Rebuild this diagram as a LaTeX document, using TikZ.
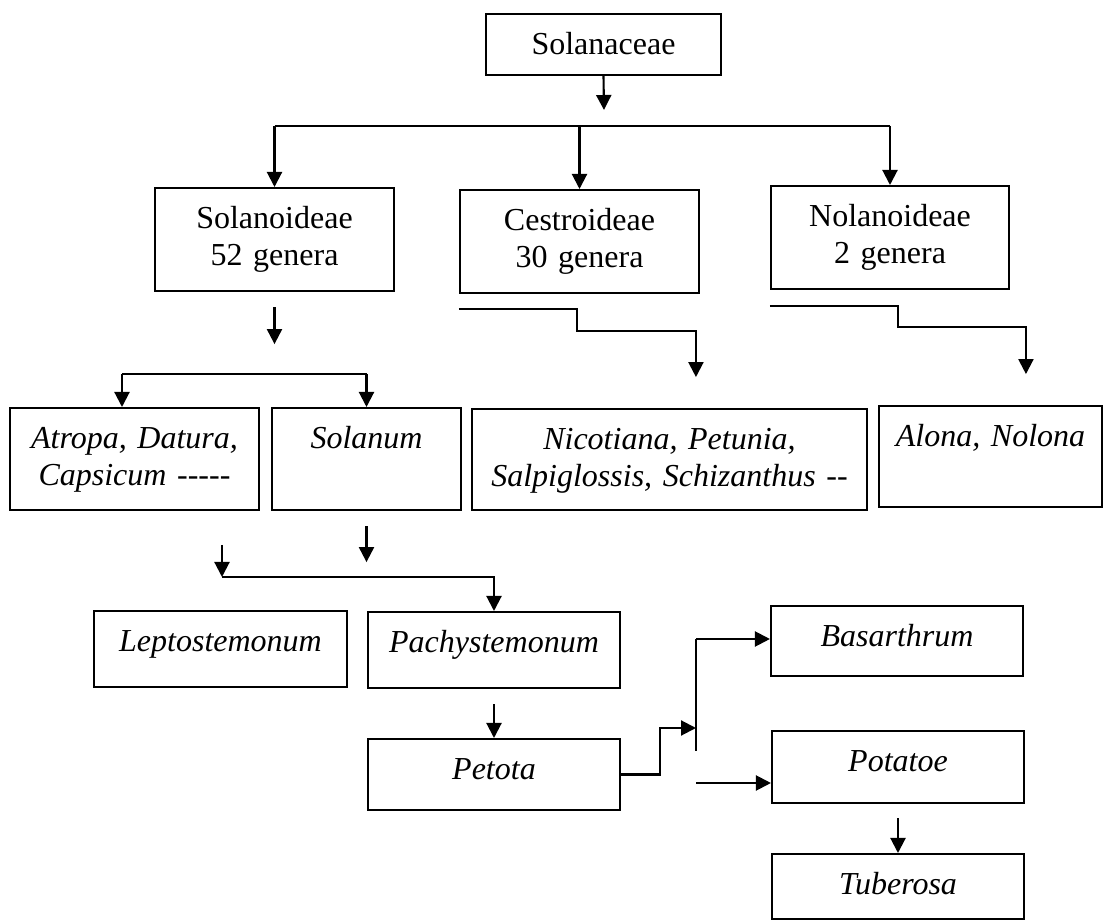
\documentclass[tikz,border=0pt]{standalone}
\usepackage{fontspec}
\setmainfont{Liberation Serif}[Ligatures=TeXOff]
\usetikzlibrary{arrows.meta}
\newcommand{\boxfont}{\fontsize{16pt}{18.5pt}\selectfont}

\begin{document}
\begin{tikzpicture}[
  x=.5pt,
  y=-.5pt,
  box/.style={
    draw,
    line width=1.05pt,
    inner sep=0pt,
    anchor=north,
    align=center,
    text height=20pt,
    font=\boxfont\itshape
  },
  head/.style={
    box,
    font=\boxfont
  },
  link/.style={line width=1.05pt},
  arr/.style={link,-{Triangle[length=7.5pt,width=7.5pt]}}
]

\useasboundingbox (0,0) rectangle (1104,924);

% family and subfamilies
\node[head,text width=117.5pt,text depth=10.5pt] (solanaceae) at (603.5,13) {Solanaceae};
\node[head,text width=119.5pt,text depth=31.5pt] (solanoideae) at (274.5,187) {Solanoideae\\52 genera};
\node[head,text width=119.5pt,text depth=31.5pt] (cestroideae) at (579.5,189) {Cestroideae\\30 genera};
\node[head,text width=119pt,text depth=31.5pt] (nolanoideae) at (890,185) {Nolanoideae\\2 genera};

% genera
\node[box,text width=124.5pt,text depth=31pt] (atropa) at (134.5,407) {Atropa, Datura,\\Capsicum -----};
\node[box,text width=94.5pt,text depth=31pt] (solanum) at (366.5,407) {Solanum};
\node[box,text width=197.5pt,text depth=30.5pt] (nicotiana) at (669.5,408) {Nicotiana, Petunia,\\Salpiglossis, Schizanthus --};
\node[box,text width=111.5pt,text depth=30.5pt] (alona) at (990.5,405) {Alona, Nolona};

% sections of Solanum
\node[box,text width=126.5pt,text depth=18pt] (lepto) at (220.5,610) {Leptostemonum};
\node[box,text width=126pt,text depth=18pt] (pachy) at (494,611) {Pachystemonum};
\node[box,text width=126pt,text depth=15.5pt] (petota) at (494,738) {Petota};
\node[box,text width=126pt,text depth=15pt] (basarthrum) at (897,605) {Basarthrum};
\node[box,text width=126pt,text depth=16pt] (potatoe) at (898,730) {Potatoe};
\node[box,text width=126pt,text depth=12.5pt] (tuberosa) at (898,853) {Tuberosa};

\coordinate (famtip) at (604,110);
\coordinate (famrail) at (604,126);
\coordinate (genrail) at (122,374);
\coordinate (sprail) at (222,577);
\coordinate (forktop) at (696,639);
\coordinate (forkbot) at (696,751);
\coordinate (forkin) at (696,728);
\coordinate (potin) at (696,783);

% Solanaceae to subfamilies
\draw[arr] (solanaceae.south) -- (famtip);
\draw[link] (solanoideae.north |- famrail) -- (nolanoideae.north |- famrail);
\foreach \sub in {solanoideae,cestroideae,nolanoideae}
  \draw[arr] (\sub.north |- famrail) -- (\sub.north);

% Solanoideae branch
\draw[arr] (solanoideae.south) ++(0,15) -- ++(0,37);
\draw[link] (genrail) -- (solanum.north |- genrail);
\draw[arr] (genrail) -- (genrail |- atropa.north);
\draw[arr] (solanum.north |- genrail) -- (solanum.north);

% stepped lines
\draw[arr] (cestroideae.south west) ++(0,15)
  -- ++(118,0) -- ++(0,22) -- ++(119,0) -- ++(0,46);
\draw[arr] (nolanoideae.south west) ++(0,16)
  -- ++(128,0) -- ++(0,21) -- ++(128,0) -- ++(0,47);

% Solanum to sections
\draw[arr] (solanum.south) ++(0,15) -- ++(0,36);
\draw[arr] (sprail) ++(0,-32) -- (sprail);
\draw[arr] (sprail) -| (pachy.north);
\draw[arr] (pachy.south) ++(0,15) -- (petota.north);

% Petota fork
\draw[arr] (petota.east) -- ++(39,0) |- (forkin);
\draw[link] (forktop) -- (forkbot);
\draw[arr] (forktop) -- (forktop -| basarthrum.west);
\draw[arr] (potin) -- (potin -| potatoe.west);
\draw[arr] (potatoe.south) ++(0,14) -- (tuberosa.north);

\end{tikzpicture}
\end{document}
